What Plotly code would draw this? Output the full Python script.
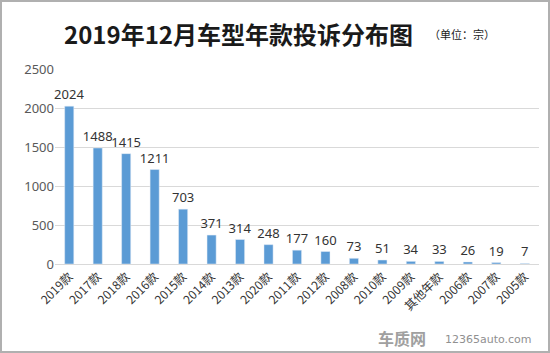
import plotly.graph_objects as go

categories = ["2019款", "2017款", "2018款", "2016款", "2015款", "2014款", "2013款", "2020款",
              "2011款", "2012款", "2008款", "2010款", "2009款", "其他年款", "2006款", "2007款", "2005款"]
values = [2024, 1488, 1415, 1211, 703, 371, 314, 248, 177, 160, 73, 51, 34, 33, 26, 19, 7]
y_ticks = [0, 500, 1000, 1500, 2000, 2500]

W, H = 550, 353
ml, mr, mt, mb = 55, 11, 69, 89
pw, ph = W - ml - mr, H - mt - mb

font = "Noto Sans CJK SC, Microsoft YaHei, sans-serif"
numfont = "Noto Sans, sans-serif"

fig = go.Figure(go.Bar(
    x=categories, y=values,
    marker_color="#5B9BD5",
    text=[str(v) for v in values], textposition="outside",
    textfont=dict(size=13, color="#333333", family=numfont),
    constraintext="none",
    cliponaxis=False,
))

fig.update_layout(
    width=W, height=H,
    margin=dict(l=ml, r=mr, t=mt, b=mb),
    paper_bgcolor="white", plot_bgcolor="white",
    bargap=0.68,
    showlegend=False,
    font=dict(family=font),
    uniformtext=dict(mode=False),
    xaxis=dict(tickangle=-45, tickfont=dict(size=12, color="#333333", family=font),
               showgrid=False, showline=True, linecolor="#d9d9d9", ticks=""),
    yaxis=dict(range=[0, 2500], tickvals=y_ticks, tickfont=dict(size=13, color="#595959", family=numfont),
               gridcolor="#d9d9d9", zeroline=False, ticks="", ticklen=0),
    annotations=[
        dict(text="<b>2019年12月车型年款投诉分布图</b>", xref="paper", yref="paper",
             x=(238 - ml) / pw, y=1 + (mt - 34) / ph, xanchor="center", yanchor="middle",
             showarrow=False, font=dict(size=24, color="#1a1a1a", family=font)),
        dict(text="（单位：宗）", xref="paper", yref="paper",
             x=(462 - ml) / pw, y=1 + (mt - 34) / ph, xanchor="center", yanchor="middle",
             showarrow=False, font=dict(size=11, color="#1a1a1a", family=font)),
        dict(text="<b>车质网</b>", xref="paper", yref="paper",
             x=(402 - ml) / pw, y=-(338 - mt - ph) / ph, xanchor="center", yanchor="middle",
             showarrow=False, font=dict(size=16, color="#a0a0a0", family=font)),
        dict(text="12365auto.com", xref="paper", yref="paper",
             x=(488 - ml) / pw, y=-(339 - mt - ph) / ph, xanchor="center", yanchor="middle",
             showarrow=False, font=dict(size=11, color="#909090", family="DejaVu Sans")),
    ],
    shapes=[dict(type="rect", xref="paper", yref="paper",
                 x0=-(ml - 1) / pw, x1=1 + (mr - 1) / pw,
                 y0=-(mb - 1) / ph, y1=1 + (mt - 1) / ph,
                 line=dict(color="#b0b0b0", width=2), fillcolor="rgba(0,0,0,0)", layer="below")],
)

fig.write_html("out.html")
